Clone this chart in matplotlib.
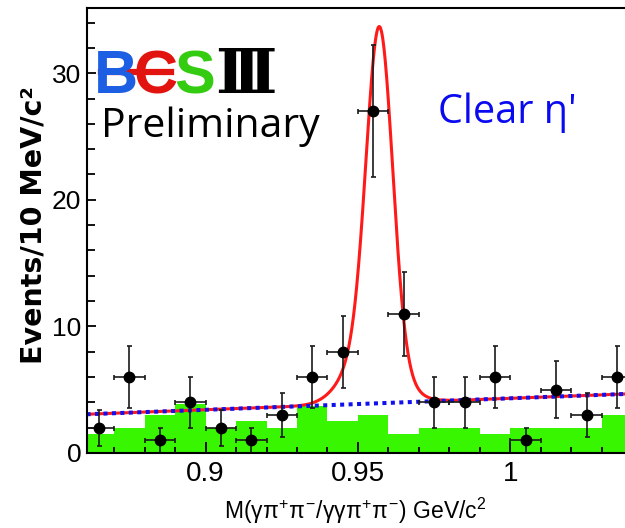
import numpy as np
import matplotlib.pyplot as plt
from matplotlib.ticker import MultipleLocator, FixedLocator, FixedFormatter

# === DADOS === #
mass_centers = [0.865, 0.875, 0.885, 0.895, 0.905, 0.915, 0.925, 0.935, 0.945,
                0.955, 0.965, 0.975, 0.985, 0.995, 1.005, 1.015, 1.025, 1.035]
n_events = [2, 6, 1, 4, 2, 1, 3, 6, 8, 27, 11, 4, 4, 6, 1, 5, 3, 6]
bin_edges = [0.86, 0.87, 0.88, 0.89, 0.90, 0.91, 0.92, 0.93, 0.94, 0.95,
             0.96, 0.97, 0.98, 0.99, 1.00, 1.01, 1.02, 1.03, 1.04]
sideband = [1.5, 2, 3, 3.9, 2, 2.5, 2, 3.7, 2.5, 3, 1.5, 2, 2, 1.5, 2, 2, 2, 3]

# parametros do ajuste (fundo linear + pico)
bkg_ref_mass = 0.861
bkg_at_ref = 3.06
bkg_slope = 9.07
core_amp, core_mean, core_sigma = 25.2, 0.9571, 0.00427
tail_amp, tail_mean, tail_sigma = 4.8, 0.9545, 0.00787

x_ticks = [0.9, 0.95, 1.0]
x_ticklabels = ['0.9', '0.95', '1']
y_ticks = [0, 10, 20, 30]

sans = ['Liberation Sans', 'DejaVu Sans']
plt.rcParams['mathtext.fontset'] = 'custom'
plt.rcParams['mathtext.rm'] = 'Liberation Sans'
plt.rcParams['mathtext.it'] = 'Liberation Sans'

W, H = 625, 528
fig = plt.figure(figsize=(W / 100, H / 100), dpi=100)
ax = fig.add_axes([86.7 / W, 75 / H, (W - 86.7) / W, 445 / H])

# === HISTOGRAMA / AJUSTE === #
ax.stairs(sideband, bin_edges, fill=True, color='#38f500', lw=0, zorder=1)

m = np.linspace(0.855, 1.045, 1500)
bkg = bkg_at_ref + bkg_slope * (m - bkg_ref_mass)
sig = (core_amp * np.exp(-0.5 * ((m - core_mean) / core_sigma) ** 2)
       + tail_amp * np.exp(-0.5 * ((m - tail_mean) / tail_sigma) ** 2))
ax.plot(m, bkg + sig, color='#ff1a1a', lw=2.2, zorder=3)
ax.plot(m, bkg, color='#1010ee', lw=2.9, ls=(0, (1, 1.1)), zorder=4)

ax.errorbar(mass_centers, n_events, yerr=np.sqrt(n_events), xerr=0.005,
            fmt='o', color='black', ms=7.5, ecolor='#1a1a1a', elinewidth=1.2,
            capsize=1.8, capthick=1.2, zorder=5)

# === EIXOS === #
ax.set_xlim(0.861, 0.861 + (W - 86.7) / 3048)
ax.set_ylim(0, 445 / 12.66)
ax.spines['right'].set_visible(False)
for s in ['left', 'bottom', 'top']:
    ax.spines[s].set_linewidth(1.5)
    ax.spines[s].set_zorder(6)

ax.xaxis.set_major_locator(FixedLocator(x_ticks))
ax.xaxis.set_major_formatter(FixedFormatter(x_ticklabels))
ax.xaxis.set_minor_locator(MultipleLocator(0.01))
ax.yaxis.set_major_locator(FixedLocator(y_ticks))
ax.yaxis.set_minor_locator(MultipleLocator(2))
ax.tick_params(which='both', direction='in', width=1.3, top=False, right=False)
ax.tick_params(axis='x', which='major', length=8, pad=6)
ax.tick_params(axis='x', which='minor', length=4.5)
ax.tick_params(axis='y', which='major', length=6.5, pad=4)
ax.tick_params(axis='y', which='minor', length=6)
for lab in ax.get_xticklabels():
    lab.set_family(sans)
    lab.set_fontsize(20)
for lab in ax.get_yticklabels():
    lab.set_family(sans)
    lab.set_fontsize(19)

fig.text(355 / W, 1 - 519 / H,
         r'M($\gamma\pi^{+}\pi^{-}/\gamma\gamma\pi^{+}\pi^{-}$) GeV/c$^{2}$',
         ha='center', va='baseline', fontsize=16.5, family=sans)
fig.text(34 / W, 1 - 225 / H, 'Events/10 MeV/c²', rotation=90,
         ha='center', va='center', fontsize=20.5, weight='bold',
         family='DejaVu Sans')

# === LOGO / TEXTOS === #
logo_base = 1 - 93.3 / H
for ch, xc, col in [('B', 116, '#1d5fe3'), ('C', 156, '#e2140f'),
                    ('S', 195, '#33cc10')]:
    fig.text(xc / W, logo_base, ch, color=col, ha='center', va='baseline',
             fontsize=44, weight='bold', family=sans)
fig.text(246 / W, logo_base, 'Ⅲ', color='black', ha='center',
         va='baseline', fontsize=44, weight='bold', family='DejaVu Serif')
# barra vermelha que corta o B e forma o E
fig.add_artist(plt.Line2D([100.5 / W, 171 / W], [1 - 72 / H, 1 - 72 / H],
                          color='#e2140f', lw=4.5))

fig.text(101 / W, 1 - 137 / H, 'Preliminary', ha='left', va='baseline',
         fontsize=29.5, family='Open Sans', color='black')
fig.text(438 / W, 1 - 123.3 / H, "Clear η'", ha='left', va='baseline',
         fontsize=28.5, family='Open Sans', color='#0a0af0')

fig.savefig('out.png', dpi=100)
